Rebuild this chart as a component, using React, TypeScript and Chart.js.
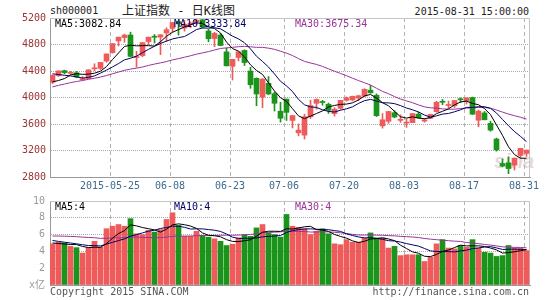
import React, { useEffect, useRef } from "react";
import { Chart, registerables } from "chart.js";
Chart.register(...registerables);

// ---------- data ----------
const dates = [
  "05-11","05-12","05-13","05-14","05-15","05-18","05-19","05-20","05-21","05-22",
  "05-25","05-26","05-27","05-28","05-29","06-01","06-02","06-03","06-04","06-05",
  "06-08","06-09","06-10","06-11","06-12","06-15","06-16","06-17","06-18","06-19",
  "06-23","06-24","06-25","06-26","06-29","06-30","07-01","07-02","07-03",
  "07-06","07-07","07-08","07-09","07-10","07-13","07-14","07-15","07-16","07-17",
  "07-20","07-21","07-22","07-23","07-24","07-27","07-28","07-29","07-30","07-31",
  "08-03","08-04","08-05","08-06","08-07","08-10","08-11","08-12","08-13","08-14",
  "08-17","08-18","08-19","08-20","08-21","08-24","08-25","08-26","08-27","08-28","08-31",
];
const opens = [
  4231,4331,4405,4364,4373,4270,4285,4433,4440,4550,
  4678,4854,4905,4943,4603,4633,4844,4924,4912,4973,
  5045,5145,5049,5100,5143,5174,5004,4890,4942,4689,
  4471,4604,4711,4399,4289,4006,4214,4058,3793,
  3976,3654,3467,3432,3708,3912,3938,3898,3757,3837,
  3958,3965,3992,4023,4110,4034,3572,3641,3770,3655,
  3614,3621,3749,3644,3687,3786,3929,3880,3875,3976,
  3946,3999,3657,3767,3609,3373,3004,3014,2978,3125,3155,
];
const highs = [
  4342,4402,4413,4395,4393,4317,4418,4509,4530,4658,
  4814,4911,4958,4986,4698,4829,4911,4951,4950,5052,
  5132,5147,5164,5143,5178,5176,5029,4985,4966,4744,
  4577,4691,4720,4456,4297,4287,4317,4080,3927,
  3976,3728,3600,3748,3959,3979,3957,3917,3846,3958,
  4008,4022,4035,4132,4184,4054,3758,3790,3800,3738,
  3675,3757,3782,3680,3749,3943,3970,3945,3955,3994,
  3994,4006,3811,3790,3641,3388,3071,3105,3085,3233,3207,
];
const lows = [
  4210,4317,4357,4344,4297,4260,4285,4404,4422,4532,
  4670,4778,4834,4614,4459,4615,4797,4822,4647,4846,
  4986,4942,5001,5052,5103,5048,4842,4767,4780,4476,
  4264,4552,4483,4139,3875,3847,4043,3795,3629,
  3653,3540,3421,3373,3684,3822,3884,3760,3718,3822,
  3944,3948,3954,4011,4064,3713,3537,3610,3694,3624,
  3549,3621,3687,3627,3683,3780,3891,3845,3848,3926,
  3901,3743,3558,3662,3491,3191,2953,2851,2906,3090,3109,
];
const closes = [
  4333.58,4401.22,4375.76,4378.31,4308.69,4283.49,4417.55,4446.29,4529.42,4657.60,
  4813.80,4910.90,4941.71,4620.27,4611.74,4828.74,4910.53,4909.98,4947.10,5023.10,
  5131.88,5113.53,5106.04,5121.59,5166.35,5062.99,4887.43,4967.90,4785.36,4478.36,
  4576.49,4690.15,4527.78,4192.87,4053.03,4277.22,4053.70,3912.77,3686.92,
  3775.91,3727.12,3507.19,3709.33,3877.80,3970.39,3924.49,3805.70,3823.18,3957.35,
  3992.11,4017.67,4026.04,4123.92,4070.91,3725.56,3663.00,3789.17,3705.77,3663.73,
  3622.91,3756.55,3694.57,3661.54,3744.20,3928.42,3927.91,3886.32,3954.56,3965.33,
  3993.67,3748.16,3794.11,3664.29,3507.74,3209.91,2964.97,2927.29,3083.59,3232.35,3205.99,
];
// volume, unit: 亿
const volumes = [
  4.9,5.1,5.0,4.6,4.45,3.8,4.45,5.2,4.5,6.7,
  7.0,7.2,7.0,7.9,6.1,6.0,6.5,6.3,6.6,7.8,
  8.6,7.1,5.8,5.8,6.4,5.9,5.7,5.5,5.2,4.7,
  4.85,5.6,6.0,5.8,6.8,7.2,6.2,6.0,5.7,
  8.4,7.0,6.85,6.7,6.0,6.4,6.7,6.1,4.9,4.8,
  5.4,5.1,5.1,5.6,6.2,5.6,5.6,4.4,4.6,3.5,
  3.6,3.6,3.6,2.8,3.3,4.9,5.4,4.4,4.3,4.7,
  4.5,5.4,4.4,3.9,3.8,3.4,3.5,4.7,4.4,4.4,4.1,
];
// closes / volumes of the 29 sessions before the window (for moving averages)
const priorCloses = [
  3691.10,3786.57,3747.90,3810.29,3825.78,3863.93,3961.38,3994.81,3957.53,4034.31,
  4121.71,4135.57,4084.16,4194.82,4287.30,4217.08,4293.62,4398.49,4414.51,4393.69,
  4527.40,4476.21,4476.62,4441.66,4480.46,4298.71,4229.27,4112.21,4205.92,
];
const priorVolumes = [
  5.2,5.6,5.3,5.5,5.4,5.6,6.3,6.6,6.4,6.0,
  6.8,6.2,5.8,6.1,6.9,7.4,6.6,6.5,5.9,5.9,
  6.2,6.0,5.5,5.4,4.9,5.4,5.3,4.9,4.5,
];
const tickDates = ["05-25","06-08","06-23","07-06","07-20","08-03","08-17","08-31"];
const tickLabels = ["2015-05-25","06-08","06-23","07-06","07-20","08-03","08-17","08-31"];
const priceMin = 2800, priceMax = 5200, priceStep = 400;
const volMin = 0, volMax = 10, volStep = 2;
const maPeriods = [5, 10, 30];

// ---------- style ----------
const MONO = "'DejaVu Sans Mono', 'Liberation Mono', 'Noto Sans CJK SC', monospace";
const UP = "#ef5b5b";
const DOWN = "#1b941b";
const MA_COLORS = ["#000000", "#000066", "#993399"];
const SLOT_OFFSET = 5 / 12;

function movingAverage(values: number[], prior: number[], n: number) {
  const all = prior.concat(values);
  return values.map((_, i) => {
    const j = i + prior.length;
    let s = 0;
    for (let k = j - n + 1; k <= j; k++) s += all[k];
    return s / n;
  });
}

const framePlugin = {
  id: "frame",
  beforeDatasetsDraw(chart: any) {
    const { ctx, chartArea: a } = chart;
    ctx.save();
    ctx.strokeStyle = "#c4c4c4";
    ctx.lineWidth = 1;
    ctx.beginPath();
    const top = Math.round(a.top) + 0.5;
    const right = Math.round(a.right) - 0.5;
    ctx.moveTo(a.left, top);
    ctx.lineTo(right, top);
    ctx.lineTo(right, a.bottom);
    ctx.stroke();
    ctx.restore();
  },
};

const tickIdx = tickDates.map((d) => dates.indexOf(d));

function xScale(showLabels: boolean, height: number) {
  return {
    type: "linear",
    min: 0,
    max: dates.length,
    offset: false,
    afterBuildTicks: (axis: any) => {
      axis.ticks = tickIdx.map((v) => ({ value: v }));
    },
    afterFit: (axis: any) => {
      axis.height = height;
    },
    grid: {
      display: true,
      offset: false,
      drawTicks: false,
      color: "#b4b4b4",
      lineWidth: 1,
    },
    border: { display: true, color: "#999999", dash: [4, 3] },
    ticks: {
      display: showLabels,
      autoSkip: false,
      maxRotation: 0,
      padding: 3,
      color: "#3d6b8f",
      font: { family: MONO, size: 10 },
      callback: (_v: any, i: number) => tickLabels[i],
    },
  };
}

export default function App() {
  const mainRef = useRef<HTMLCanvasElement>(null);
  const volRef = useRef<HTMLCanvasElement>(null);

  const priceMA = maPeriods.map((n) => movingAverage(closes, priorCloses, n));
  const volMA = maPeriods.map((n) => movingAverage(volumes, priorVolumes, n));
  const last = dates.length - 1;

  useEffect(() => {
    const xs = dates.map((_, i) => i + SLOT_OFFSET);
    const colors = closes.map((c, i) => (c >= opens[i] ? UP : DOWN));

    const maDatasets = (series: number[][]) =>
      series.map((s, k) => ({
        type: "line",
        data: s.map((v, i) => ({ x: xs[i], y: v })),
        borderColor: MA_COLORS[k],
        borderWidth: 1,
        pointRadius: 0,
        tension: 0,
        order: 0,
      }));

    const main = new Chart(mainRef.current as HTMLCanvasElement, {
      type: "bar",
      data: {
        datasets: [
          ...maDatasets(priceMA),
          {
            type: "bar",
            data: xs.map((x, i) => ({ x, y: [opens[i], closes[i]] })),
            backgroundColor: colors,
            borderWidth: 0,
            barThickness: 5,
            minBarLength: 1,
            grouped: false,
            order: 1,
          },
          {
            type: "bar",
            data: xs.map((x, i) => ({ x, y: [lows[i], highs[i]] })),
            backgroundColor: colors,
            borderWidth: 0,
            barThickness: 1,
            grouped: false,
            order: 2,
          },
        ] as any,
      },
      options: {
        responsive: false,
        animation: false,
        events: [],
        layout: { padding: { top: 18, right: 15, left: 0, bottom: 0 } },
        plugins: { legend: { display: false }, tooltip: { enabled: false } },
        scales: {
          x: xScale(true, 18) as any,
          y: {
            type: "linear",
            min: priceMin,
            max: priceMax,
            afterFit: (axis: any) => {
              axis.width = 50;
            },
            grid: {
              drawTicks: false,
              color: (ctx: any) =>
                ctx.tick && (ctx.tick.value === priceMin || ctx.tick.value === priceMax)
                  ? "rgba(0,0,0,0)"
                  : "#a8a8a8",
            },
            border: { display: true, color: "#999999", dash: [1, 1] },
            ticks: {
              stepSize: priceStep,
              padding: 4,
              color: "#993333",
              font: { family: MONO, size: 10 },
              callback: (v: any) => String(v),
            },
          },
        },
      } as any,
      plugins: [framePlugin],
    });

    const vol = new Chart(volRef.current as HTMLCanvasElement, {
      type: "bar",
      data: {
        datasets: [
          ...maDatasets(volMA),
          {
            type: "bar",
            data: xs.map((x, i) => ({ x, y: volumes[i] })),
            backgroundColor: colors,
            borderWidth: 0,
            barThickness: 5,
            grouped: false,
            order: 1,
          },
        ] as any,
      },
      options: {
        responsive: false,
        animation: false,
        events: [],
        layout: { padding: { top: 11, right: 15, left: 0, bottom: 0 } },
        plugins: { legend: { display: false }, tooltip: { enabled: false } },
        scales: {
          x: xScale(false, 15) as any,
          y: {
            type: "linear",
            min: volMin,
            max: volMax,
            afterFit: (axis: any) => {
              axis.width = 50;
            },
            grid: {
              drawTicks: false,
              color: (ctx: any) =>
                ctx.tick && (ctx.tick.value === volMin || ctx.tick.value === volMax)
                  ? "rgba(0,0,0,0)"
                  : "#a8a8a8",
            },
            border: { display: true, color: "#999999", dash: [1, 1] },
            ticks: {
              stepSize: volStep,
              padding: 5,
              color: "#9a9a9a",
              font: { family: MONO, size: 10 },
              callback: (v: any) => (v === 0 ? "x亿" : String(v)),
            },
          },
        },
      } as any,
      plugins: [framePlugin],
    });

    return () => {
      main.destroy();
      vol.destroy();
    };
  }, []);

  const txt = (extra: any) => ({
    position: "absolute" as const,
    fontFamily: MONO,
    fontSize: 10,
    lineHeight: "12px",
    whiteSpace: "nowrap" as const,
    ...extra,
  });

  const maNames = ["MA5", "MA10", "MA30"];
  const labelLefts = [55, 174, 295];

  return (
    <div
      style={{
        position: "fixed",
        left: 0,
        top: 0,
        width: 545,
        height: 300,
        background: "#ffffff",
        overflow: "hidden",
      }}
    >
      <div style={txt({ left: 50, top: 5, color: "#222" })}>sh000001</div>
      <div
        style={txt({
          left: 122,
          top: 4,
          fontSize: 12,
          lineHeight: "14px",
          color: "#222",
          fontFamily: "'DejaVu Sans Mono', 'Noto Sans CJK SC', monospace",
        })}
      >
        上证指数 - 日K线图
      </div>
      <div style={txt({ right: 16, top: 6, color: "#222" })}>2015-08-31 15:00:00</div>
      <div
        style={{
          position: "absolute",
          left: 494,
          top: 150,
          fontFamily: "'Liberation Sans', Arial, sans-serif",
          fontStyle: "italic",
          fontWeight: "bold",
          fontSize: 20,
          lineHeight: "22px",
          color: "rgba(200,170,170,0.45)",
        }}
      >
        sina
      </div>
      <canvas
        ref={mainRef}
        width={545}
        height={195}
        style={{ position: "absolute", left: 0, top: 0, width: 545, height: 195 }}
      />
      {maNames.map((n, k) => (
        <div key={"p" + n} style={txt({ left: labelLefts[k], top: 18, color: MA_COLORS[k] })}>
          {n}:{priceMA[k][last].toFixed(2)}
        </div>
      ))}
      <canvas
        ref={volRef}
        width={545}
        height={110}
        style={{ position: "absolute", left: 0, top: 190, width: 545, height: 110 }}
      />
      {maNames.map((n, k) => (
        <div key={"v" + n} style={txt({ left: labelLefts[k], top: 201, color: MA_COLORS[k] })}>
          {n}:{Math.round(volMA[k][last])}
        </div>
      ))}
      <div style={txt({ left: 50, top: 286, color: "#555" })}>Copyright 2015 SINA.COM</div>
      <div style={txt({ right: 16, top: 286, color: "#555" })}>http://finance.sina.com.cn</div>
    </div>
  );
}
